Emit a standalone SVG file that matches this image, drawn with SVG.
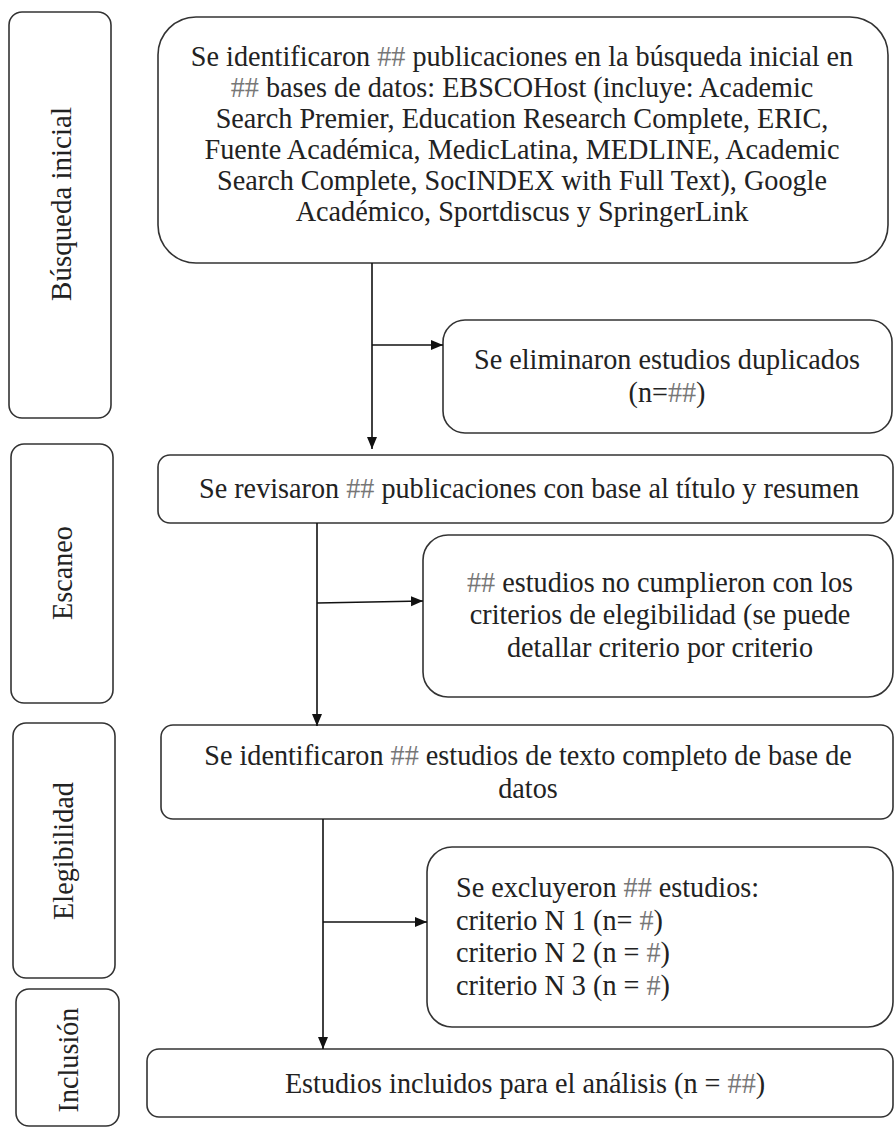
<svg xmlns="http://www.w3.org/2000/svg" width="894" height="1128" viewBox="0 0 894 1128">
<defs>
<style>
.box{fill:#fff;stroke:#333;stroke-width:1.6}
.t{font-family:"Liberation Serif","Times New Roman",serif;font-size:30.5px;fill:#222}
.c{text-anchor:middle}
.h{fill:#777}
.ln{fill:none;stroke:#111;stroke-width:1.6}
</style>
<marker id="ah" markerUnits="userSpaceOnUse" markerWidth="13" markerHeight="11" refX="12" refY="5" orient="auto">
<path d="M0,0 L12,5 L0,10 z" fill="#111"/>
</marker>
</defs>
<rect width="894" height="1128" fill="#fff"/>

<g id="phase-busqueda">
<rect class="box" x="9" y="12" width="102" height="406" rx="13"/>
<text class="t c" font-size="32" transform="translate(71,204) rotate(-90) scale(0.95,1)">Búsqueda inicial</text>
</g>
<g id="phase-escaneo">
<rect class="box" x="11" y="444" width="102" height="259" rx="13"/>
<text class="t c" transform="translate(72,573) rotate(-90) scale(0.925,1)">Escaneo</text>
</g>
<g id="phase-elegibilidad">
<rect class="box" x="13" y="723" width="102" height="255" rx="13"/>
<text class="t c" transform="translate(73,851) rotate(-90) scale(0.925,1)">Elegibilidad</text>
</g>
<g id="phase-inclusion">
<rect class="box" x="16" y="989" width="103" height="137" rx="13"/>
<text class="t c" transform="translate(78,1060) rotate(-90) scale(0.925,1)">Inclusión</text>
</g>

<g id="node-busqueda">
<rect class="box" x="158" y="17" width="730" height="246" rx="38"/>
<g transform="translate(522,0) scale(0.925,1)">
<text class="t c" x="0" y="66">Se identificaron <tspan class="h">##</tspan> publicaciones en la búsqueda inicial en</text>
<text class="t c" x="0" y="97"><tspan class="h">##</tspan> bases de datos: EBSCOHost (incluye: Academic</text>
<text class="t c" x="0" y="128">Search Premier, Education Research Complete, ERIC,</text>
<text class="t c" x="0" y="159">Fuente Académica, MedicLatina, MEDLINE, Academic</text>
<text class="t c" x="0" y="190">Search Complete, SocINDEX with Full Text), Google</text>
<text class="t c" x="0" y="221">Académico, Sportdiscus y SpringerLink</text>
</g>
</g>

<g id="node-duplicados">
<rect class="box" x="443" y="320" width="449" height="113" rx="22"/>
<g transform="translate(667,0) scale(0.925,1)">
<text class="t c" x="0" y="369">Se eliminaron estudios duplicados</text>
<text class="t c" x="0" y="402">(n=<tspan class="h">##</tspan>)</text>
</g>
</g>

<g id="node-revisaron">
<rect class="box" x="158" y="455" width="735" height="68" rx="12"/>
<g transform="translate(529,0) scale(0.925,1)">
<text class="t c" x="0" y="498">Se revisaron <tspan class="h">##</tspan> publicaciones con base al título y resumen</text>
</g>
</g>

<g id="node-no-cumplieron">
<rect class="box" x="423" y="535" width="470" height="162" rx="25"/>
<g transform="translate(660,0) scale(0.925,1)">
<text class="t c" x="0" y="592"><tspan class="h">##</tspan> estudios no cumplieron con los</text>
<text class="t c" x="0" y="624.5">criterios de elegibilidad (se puede</text>
<text class="t c" x="0" y="657">detallar criterio por criterio</text>
</g>
</g>

<g id="node-texto-completo">
<rect class="box" x="161" y="725" width="732" height="94" rx="12"/>
<g transform="translate(528,0) scale(0.925,1)">
<text class="t c" x="0" y="765">Se identificaron <tspan class="h">##</tspan> estudios de texto completo de base de</text>
<text class="t c" x="0" y="798">datos</text>
</g>
</g>

<g id="node-excluyeron">
<rect class="box" x="427" y="847" width="466" height="180" rx="25"/>
<g transform="translate(456,0) scale(0.925,1)">
<text class="t" x="0" y="897">Se excluyeron <tspan class="h">##</tspan> estudios:</text>
<text class="t" x="0" y="930">criterio N 1 (n= <tspan class="h">#</tspan>)</text>
<text class="t" x="0" y="962">criterio N 2 (n = <tspan class="h">#</tspan>)</text>
<text class="t" x="0" y="995">criterio N 3 (n = <tspan class="h">#</tspan>)</text>
</g>
</g>

<g id="node-incluidos">
<rect class="box" x="147" y="1049" width="746" height="68" rx="12"/>
<g transform="translate(525,0) scale(0.925,1)">
<text class="t c" x="0" y="1093">Estudios incluidos para el análisis (n = <tspan class="h">##</tspan>)</text>
</g>
</g>

<g id="connectors">
<line class="ln" x1="372" y1="263" x2="372" y2="449" marker-end="url(#ah)"/>
<line class="ln" x1="372" y1="345" x2="443" y2="345" marker-end="url(#ah)"/>
<line class="ln" x1="317" y1="523" x2="317" y2="726" marker-end="url(#ah)"/>
<line class="ln" x1="317" y1="603" x2="423" y2="601" marker-end="url(#ah)"/>
<line class="ln" x1="323" y1="819" x2="323" y2="1049" marker-end="url(#ah)"/>
<line class="ln" x1="323" y1="922" x2="427" y2="922" marker-end="url(#ah)"/>
</g>
</svg>
